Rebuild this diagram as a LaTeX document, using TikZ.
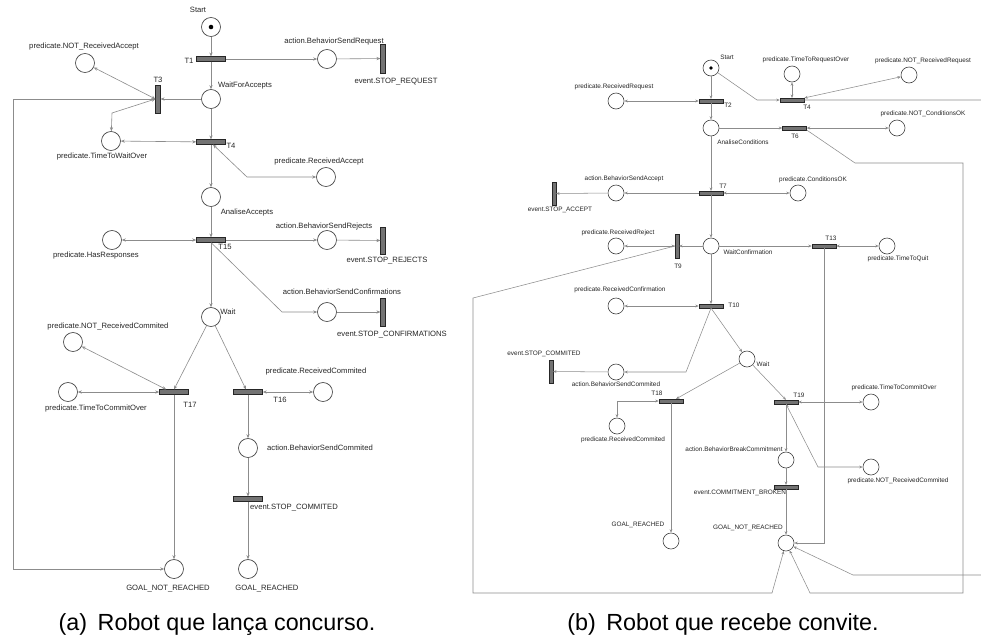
\documentclass[tikz,border=0pt]{standalone}
\usepackage{fontspec}
\setmainfont{Liberation Sans}
\usetikzlibrary{arrows.meta,calc}
\newcommand\lfnt{\fontsize{5.75}{6}\selectfont}
\newcommand\rfnt{\fontsize{4.8}{5}\selectfont}
\begin{document}
\begin{tikzpicture}[x=0.75pt,y=-0.75pt,
  wire/.style={draw=black!45, line width=0.45pt, -{Stealth[length=3pt,width=2.4pt]}},
  rwire/.style={wire, {Stealth[length=3pt,width=2.4pt]}-{Stealth[length=3pt,width=2.4pt]}},
  rw/.style={draw=black!45, line width=0.4pt, -{Stealth[length=2.6pt,width=2.1pt]}},
  rrw/.style={rw, {Stealth[length=2.6pt,width=2.1pt]}-{Stealth[length=2.6pt,width=2.1pt]}},
  place/.style={circle, draw=black!75, line width=0.5pt, minimum size=14.25pt, inner sep=0pt, fill=white},
  rplace/.style={place, line width=0.45pt, minimum size=12pt},
  hbar/.style={rectangle, draw=black!85, fill=black!55, line width=0.4pt, minimum width=21.75pt, minimum height=3.4pt, inner sep=0pt},
  vbar/.style={hbar, minimum width=3.4pt, minimum height=21pt},
  rhbar/.style={hbar, minimum width=18pt, minimum height=2.7pt},
  rvbar/.style={hbar, minimum width=2.7pt, minimum height=17.5pt},
  lbl/.style={font=\lfnt, text=black!85, inner sep=0pt},
  rlbl/.style={font=\rfnt, text=black!85, inner sep=0pt},
  captext/.style={font=\fontsize{17.5}{20}\selectfont, text=black, inner sep=0pt, anchor=base}]
\useasboundingbox (0,0) rectangle (981,636);
\fill[white] (0,0) rectangle (981,636);
\clip (0,0) rectangle (981,636);

% ---------------- (a) auctioneer robot ----------------
\node[place] (Start) at (211,27) {};
\fill[black] (Start) circle (1.7pt);
\node[hbar] (T1) at (211,59) {};
\node[place] (WFA) at (211,99) {};
\node[vbar] (T3) at (158,99) {};
\node[place] (NRA) at (85,63) {};
\node[place] (TTWO) at (111,141) {};
\node[hbar] (T4) at (211,142) {};
\node[place] (BSR) at (327,59) {};
\node[vbar, minimum height=21.75pt] (SREQ) at (383,58.5) {};
\node[place] (RA) at (326,177) {};
\node[place] (AA) at (211,197) {};
\node[hbar] (T15) at (211,240) {};
\node[place] (HR) at (112,240) {};
\node[place] (BSRj) at (327,240) {};
\node[vbar, minimum height=20pt] (SREJ) at (383,240.5) {};
\node[place] (BSC) at (327,312) {};
\node[vbar] (SCONF) at (383,312) {};
\node[place] (Wait) at (211,317) {};
\node[place] (NRC) at (73,342) {};
\node[place] (TTCO) at (68,392) {};
\node[hbar] (T17) at (174,392) {};
\node[hbar] (T16) at (248,392) {};
\node[place] (RC) at (323,392) {};
\node[place] (BSCm) at (248,448) {};
\node[hbar] (SCOM) at (248,499) {};
\node[place] (GNR) at (174,569) {};
\node[place] (GR) at (248,569) {};

\node[lbl] (lStart) at (198,10) {Start};
\node[lbl] (lT1) at (189,61) {T1};
\node[lbl] (lT3) at (158,80) {T3};
\node[lbl] (lNRA) at (84,47) {predicate.NOT\_ReceivedAccept};
\node[lbl] (lWFA) at (245,86) {WaitForAccepts};
\node[lbl] (lTTWO) at (102,157) {predicate.TimeToWaitOver};
\node[lbl] (lT4) at (231,146) {T4};
\node[lbl] (lBSR) at (334,42) {action.BehaviorSendRequest};
\node[lbl] (lSREQ) at (396,82) {event.STOP\_REQUEST};
\node[lbl] (lRA) at (319,162) {predicate.ReceivedAccept};
\node[lbl] (lAA) at (247,213) {AnaliseAccepts};
\node[lbl] (lHR) at (96,256) {predicate.HasResponses};
\node[lbl] (lT15) at (225,247) {T15};
\node[lbl] (lBSRj) at (324,227) {action.BehaviorSendRejects};
\node[lbl] (lSREJ) at (387,261) {event.STOP\_REJECTS};
\node[lbl] (lBSC) at (342,292) {action.BehaviorSendConfirmations};
\node[lbl] (lSCONF) at (392,335) {event.STOP\_CONFIRMATIONS};
\node[lbl] (lWait) at (228,312) {Wait};
\node[lbl] (lNRC) at (108,327) {predicate.NOT\_ReceivedCommited};
\node[lbl] (lTTCO) at (96,409) {predicate.TimeToCommitOver};
\node[lbl] (lT17) at (190,405) {T17};
\node[lbl] (lT16) at (280,400) {T16};
\node[lbl] (lRC) at (316,372) {predicate.ReceivedCommited};
\node[lbl] (lBSCm) at (320,448) {action.BehaviorSendCommited};
\node[lbl] (lSCOM) at (294,508) {event.STOP\_COMMITED};
\node[lbl] (lGNR) at (168,589) {GOAL\_NOT\_REACHED};
\node[lbl] (lGR) at (267,589) {GOAL\_REACHED};

\draw[wire] (Start) -- (T1);
\draw[wire] (T1) -- (WFA);
\draw[wire] (T1) -- (BSR);
\draw[wire] (BSR) -- (SREQ);
\draw[wire] (WFA) -- (T3);
\draw[rwire] (T3.west) -- (NRA);
\draw[rwire] (T3.west) -- (112,113) -- (TTWO);
\draw[wire] (T3.west) -- (13,99) -- (13,569) -- (GNR);
\draw[wire] (WFA) -- (T4);
\draw[rwire] (TTWO) -- (T4);
\draw[rwire] (RA) -- (247,177) -- ($(T4.south)+(2,0)$);
\draw[wire] (T4) -- (AA);
\draw[wire] (AA) -- (T15);
\draw[rwire] (HR) -- (T15);
\draw[wire] (T15) -- (BSRj);
\draw[wire] (BSRj) -- (SREJ);
\draw[wire] (T15.south) -- (282,312) -- (BSC);
\draw[wire] (BSC) -- (SCONF);
\draw[wire] (T15) -- (Wait);
\draw[wire] (Wait) -- (T17.north);
\draw[wire] (Wait) -- ($(T16.north)+(-2,0)$);
\draw[rwire] (NRC) -- ($(T17.north west)+(7,0)$);
\draw[rwire] (TTCO) -- (T17);
\draw[wire] (T17) -- (GNR);
\draw[rwire] (RC) -- (T16);
\draw[wire] (T16) -- (BSCm);
\draw[wire] (BSCm) -- (SCOM);
\draw[wire] (SCOM) -- (GR);

\node[captext] (capA) at (217,630) {(a)\hspace{0.45em}Robot que lança concurso.};

% ---------------- (b) invited robot ----------------
\node[rplace] (S2) at (711,68) {};
\fill[black] (S2) circle (1.4pt);
\node[rhbar] (T2) at (711,101) {};
\node[rplace] (RR) at (616,101) {};
\node[rplace] (AC) at (711,128) {};
\node[rhbar] (T4r) at (792,100) {};
\node[rplace] (TTRO) at (792,74) {};
\node[rplace] (NRR) at (909,75) {};
\node[rhbar] (T6) at (794.5,128) {};
\node[rplace] (NCOK) at (897,128) {};
\node[rhbar] (T7) at (711,193) {};
\node[rplace] (BSA) at (616,193) {};
\node[rvbar] (SACC) at (554,193.5) {};
\node[rplace] (COK) at (798,193) {};
\node[rplace] (WC) at (711,246) {};
\node[rvbar, minimum height=18pt] (T9) at (677,246) {};
\node[rplace] (RRj) at (616,246) {};
\node[rhbar] (T13) at (824,246) {};
\node[rplace] (TTQ) at (887,246) {};
\node[rhbar] (T10) at (711,306) {};
\node[rplace] (RCf) at (616,306) {};
\node[rplace] (W2) at (747,359) {};
\node[rplace] (BSCm2) at (616,372) {};
\node[rvbar] (SCOM2) at (551,371.5) {};
\node[rhbar] (T18) at (671,401) {};
\node[rhbar] (T19) at (786,402) {};
\node[rplace] (RC2) at (617,426) {};
\node[rplace] (TTCO2) at (871,402) {};
\node[rplace] (BBC) at (786,460) {};
\node[rplace] (NRC2) at (871,467) {};
\node[rhbar] (CB) at (786,487) {};
\node[rplace] (GR2) at (671,541) {};
\node[rplace] (GNR2) at (786,543) {};

\node[rlbl] (lS2) at (727,57) {Start};
\node[rlbl] (lT2) at (728,105) {T2};
\node[rlbl] (lRR) at (614,87) {predicate.ReceivedRequest};
\node[rlbl] (lAC) at (743,142) {AnaliseConditions};
\node[rlbl] (lTTRO) at (806,60) {predicate.TimeToRequestOver};
\node[rlbl] (lNRR) at (923,61) {predicate.NOT\_ReceivedRequest};
\node[rlbl] (lT4r) at (807,107) {T4};
\node[rlbl] (lNCOK) at (923,114) {predicate.NOT\_ConditionsOK};
\node[rlbl] (lT6) at (795,136) {T6};
\node[rlbl] (lT7) at (723,186) {T7};
\node[rlbl] (lBSA) at (624,179) {action.BehaviorSendAccept};
\node[rlbl] (lCOK) at (813,180) {predicate.ConditionsOK};
\node[rlbl] (lSACC) at (560,210) {event.STOP\_ACCEPT};
\node[rlbl] (lRRj) at (618,233) {predicate.ReceivedReject};
\node[rlbl] (lT9) at (678,266) {T9};
\node[rlbl] (lWC) at (748,252) {WaitConfirmation};
\node[rlbl] (lT13) at (831,238) {T13};
\node[rlbl] (lTTQ) at (898,259) {predicate.TimeToQuit};
\node[rlbl] (lRCf) at (620,290) {predicate.ReceivedConfirmation};
\node[rlbl] (lT10) at (734,305) {T10};
\node[rlbl] (lSCOM2) at (544,354) {event.STOP\_COMMITED};
\node[rlbl] (lBSCm2) at (616,384) {action.BehaviorSendCommited};
\node[rlbl] (lW2) at (763,364) {Wait};
\node[rlbl] (lT18) at (657,393) {T18};
\node[rlbl] (lT19) at (799,395) {T19};
\node[rlbl] (lRC2) at (623,440) {predicate.ReceivedCommited};
\node[rlbl] (lTTCO2) at (894,388) {predicate.TimeToCommitOver};
\node[rlbl] (lBBC) at (734,449) {action.BehaviorBreakCommitment};
\node[rlbl] (lNRC2) at (898,481) {predicate.NOT\_ReceivedCommited};
\node[rlbl] (lCB) at (740,493) {event.COMMITMENT\_BROKEN};
\node[rlbl] (lGR2) at (638,525) {GOAL\_REACHED};
\node[rlbl] (lGNR2) at (748,528) {GOAL\_NOT\_REACHED};

\draw[rw] (S2) -- (T2);
\draw[rw] (T2) -- (AC);
\draw[rrw] (RR) -- (T2);
\draw[rw] (S2) -- (757,100) -- (T4r);
\draw[rrw] (TTRO) -- (T4r);
\draw[rrw] (T4r.north east) -- (NRR);
\draw[rw] (T4r.east) -- (1000,100) -- (1000,575) -- (853,575) -- (GNR2);
\draw[rw] (AC) -- (T6);
\draw[rrw] (NCOK) -- (T6);
\draw[rw] (T6.south east) -- (855,163) -- (963,163) -- (963,593) -- (810,593) -- (GNR2);
\draw[rw] (AC) -- (T7);
\draw[rw] (T7) -- (BSA);
\draw[rw] (BSA) -- (SACC);
\draw[rrw] (COK) -- (T7);
\draw[rw] (T7) -- (WC);
\draw[rw] (WC) -- (T9);
\draw[rrw] (RRj) -- (T9);
\draw[rw] (T9.west) -- (473,298) -- (473,593) -- (772,593) -- (GNR2);
\draw[rw] (WC) -- (T13);
\draw[rrw] (TTQ) -- (T13);
\draw[rw] (T13.south) -- (824,543) -- (GNR2);
\draw[rw] (WC) -- (T10);
\draw[rrw] (RCf) -- (T10);
\draw[rw] (T10.south) -- (W2);
\draw[rw] (T10.south) -- (686,372) -- (BSCm2);
\draw[rw] (BSCm2) -- (SCOM2);
\draw[rw] (W2) -- ($(T18.north)+(5,0)$);
\draw[rw] (W2) -- (T19.north);
\draw[rrw] (T18.west) -- (617,401) -- (RC2);
\draw[rw] (T18) -- (GR2);
\draw[rrw] (TTCO2) -- (T19);
\draw[rrw] (T19.south) -- (818,467) -- (NRC2);
\draw[rw] (T19) -- (BBC);
\draw[rw] (BBC) -- (CB);
\draw[rw] (CB) -- (GNR2);

\node[captext] (capB) at (723,630) {(b)\hspace{0.45em}Robot que recebe convite.};
\end{tikzpicture}
\end{document}
